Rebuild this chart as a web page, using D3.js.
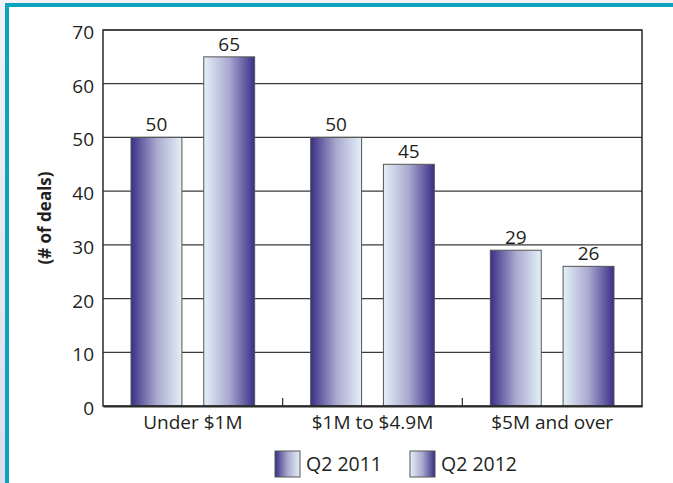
<!DOCTYPE html>
<html>
<head>
<meta charset="utf-8">
<script src="https://cdn.jsdelivr.net/npm/d3@7"></script>
<style>
  body { margin: 0; background: #fff; }
  svg { display: block; }
  text { font-family: "Open Sans", "Noto Sans", sans-serif; fill: #231f20; }
</style>
</head>
<body>
<svg id="chart" width="673" height="483"></svg>
<script>
const categories = ["Under $1M", "$1M to $4.9M", "$5M and over"];
const seriesNames = ["Q2 2011", "Q2 2012"];
const q2011 = [50, 50, 29];
const q2012 = [65, 45, 26];
const yTicks = [0, 10, 20, 30, 40, 50, 60, 70];

const svg = d3.select("#chart");
const W = 673, H = 483;
const margin = { top: 30, right: 31, bottom: 77, left: 103 };

// page frame: lavender outside, teal rule top + left
const defs = svg.append("defs");
const bg = defs.append("linearGradient").attr("id", "bgGrad")
  .attr("x1", 0).attr("x2", 0).attr("y1", 0).attr("y2", 1);
bg.append("stop").attr("offset", 0).attr("stop-color", "#f3f2f8");
bg.append("stop").attr("offset", 1).attr("stop-color", "#dddcea");
svg.append("rect").attr("width", W).attr("height", H).attr("fill", "url(#bgGrad)");
svg.append("rect").attr("x", 5).attr("y", 3).attr("width", W - 5).attr("height", H - 3).attr("fill", "#0ba3bd");
svg.append("rect").attr("x", 9).attr("y", 7).attr("width", W - 9).attr("height", H - 7).attr("fill", "#fff");

// bar gradients
function grad(id, dark0) {
  const g = defs.append("linearGradient").attr("id", id)
    .attr("x1", 0).attr("x2", 1).attr("y1", 0).attr("y2", 0);
  const dark = "#3a2f86", mid = "#a9a8cf", light = "#e4f1f7";
  const stops = dark0 ? [dark, mid, light] : [light, mid, dark];
  stops.forEach((c, i) => g.append("stop").attr("offset", [0, 0.5, 1][i]).attr("stop-color", c));
}
grad("g2011", true);
grad("g2012", false);
const fills = ["url(#g2011)", "url(#g2012)"];

const x0 = d3.scaleBand()
  .domain(categories)
  .range([margin.left, W - margin.right]);

const x1 = d3.scaleBand()
  .domain(seriesNames)
  .range([28, x0.bandwidth() - 28])
  .paddingInner(0.3);

const y = d3.scaleLinear()
  .domain([0, 70])
  .range([H - margin.bottom, margin.top]);

const g = svg.append("g");

// gridlines
g.selectAll(".grid")
  .data(yTicks.slice(1))
  .enter()
  .append("line")
  .attr("class", "grid")
  .attr("x1", margin.left)
  .attr("x2", W - margin.right)
  .attr("y1", d => y(d))
  .attr("y2", d => y(d))
  .attr("stroke", "#3a3a3a")
  .attr("stroke-width", 1.2);

// bars
const data = categories.map((c, i) => ({ cat: c, vals: [q2011[i], q2012[i]] }));
const groups = g.selectAll(".grp")
  .data(data)
  .enter()
  .append("g")
  .attr("transform", d => `translate(${x0(d.cat)},0)`);

groups.selectAll("rect")
  .data(d => d.vals.map((v, i) => ({ s: seriesNames[i], v, i })))
  .enter()
  .append("rect")
  .attr("x", d => x1(d.s))
  .attr("y", d => y(d.v))
  .attr("width", x1.bandwidth())
  .attr("height", d => y(0) - y(d.v))
  .attr("fill", d => fills[d.i])
  .attr("stroke", "#555")
  .attr("stroke-width", 1);

groups.selectAll(".lbl")
  .data(d => d.vals.map((v, i) => ({ s: seriesNames[i], v })))
  .enter()
  .append("text")
  .attr("class", "lbl")
  .attr("x", d => x1(d.s) + x1.bandwidth() / 2)
  .attr("y", d => y(d.v) - 6)
  .attr("text-anchor", "middle")
  .style("font-size", "19px")
  .text(d => d.v);

// plot frame (left, right, top) + axis
g.append("rect")
  .attr("x", margin.left)
  .attr("y", margin.top)
  .attr("width", W - margin.right - margin.left)
  .attr("height", y(0) - margin.top)
  .attr("fill", "none")
  .attr("stroke", "#2a2a2a")
  .attr("stroke-width", 1.5);

const yAxis = d3.axisLeft(y).tickValues(yTicks).tickSize(0).tickPadding(9);
svg.append("g")
  .attr("transform", `translate(${margin.left},0)`)
  .call(yAxis)
  .call(s => s.select(".domain").remove())
  .selectAll("text")
  .attr("dy", "0.45em")
  .style("font-size", "19px")
  .style("fill", "#231f20");

const xAxis = d3.axisBottom(x0).tickSize(0).tickPadding(10);
svg.append("g")
  .attr("transform", `translate(0,${y(0)})`)
  .call(xAxis)
  .call(s => s.select(".domain").attr("stroke", "#2a2a2a").attr("stroke-width", 2))
  .selectAll("text")
  .style("font-size", "19px")
  .style("fill", "#231f20");

// group separator ticks
g.selectAll(".sep")
  .data(categories.slice(1))
  .enter()
  .append("line")
  .attr("x1", d => x0(d))
  .attr("x2", d => x0(d))
  .attr("y1", y(0))
  .attr("y2", y(0) - 8)
  .attr("stroke", "#2a2a2a")
  .attr("stroke-width", 1.2);

// y title
svg.append("text")
  .attr("transform", `translate(51,${(margin.top + y(0)) / 2}) rotate(-90)`)
  .attr("text-anchor", "middle")
  .style("font-size", "17px")
  .style("font-weight", "bold")
  .text("(# of deals)");

// legend
const legendX = [275, 410];
const leg = svg.selectAll(".leg")
  .data(seriesNames)
  .enter()
  .append("g")
  .attr("transform", (d, i) => `translate(${legendX[i]},451)`);
leg.append("rect")
  .attr("width", 25)
  .attr("height", 26)
  .attr("fill", (d, i) => fills[i])
  .attr("stroke", "#555");
leg.append("text")
  .attr("x", 31)
  .attr("y", 20)
  .style("font-size", "19.5px")
  .text(d => d);
</script>
</body>
</html>
